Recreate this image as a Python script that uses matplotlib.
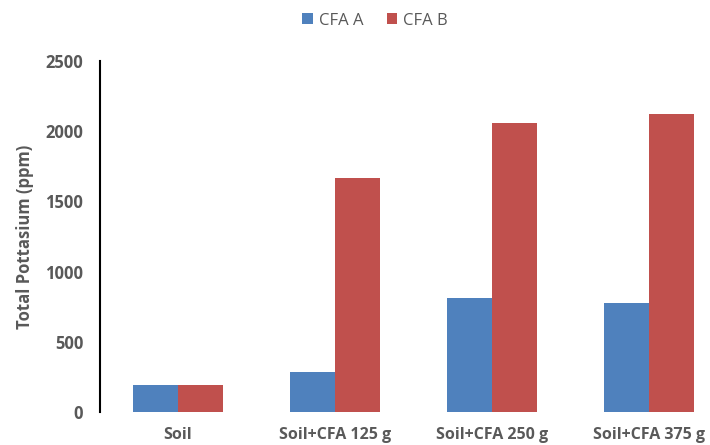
import matplotlib
matplotlib.use("Agg")
import matplotlib.pyplot as plt
import numpy as np

categories = ["Soil", "Soil+CFA 125 g", "Soil+CFA 250 g", "Soil+CFA 375 g"]
cfa_a = [190, 285, 815, 775]
cfa_b = [190, 1665, 2055, 2120]
yticks = [0, 500, 1000, 1500, 2000, 2500]

plt.rcParams['font.family'] = ['Open Sans', 'DejaVu Sans']
grey = "#595959"

fig = plt.figure(figsize=(7.1, 4.45), dpi=100)
ax = fig.add_axes([100/710, 33/445, 627/710, 351/445])

x = np.arange(len(categories))
w = 0.287
ax.bar(x - w/2, cfa_a, width=w, color="#4F81BD", label="CFA A")
ax.bar(x + w/2, cfa_b, width=w, color="#C0504D", label="CFA B")

ax.set_xlim(-0.497, 3.5)
ax.set_ylim(0, 2500)
ax.set_yticks(yticks)
ax.set_yticklabels([str(t) for t in yticks], fontsize=12, fontweight="bold", color=grey)
ax.set_xticks(x)
ax.set_xticklabels(categories, fontsize=11.5, fontweight="bold", color=grey)
ax.tick_params(axis="both", length=0)
ax.tick_params(axis="y", pad=12)
ax.tick_params(axis="x", pad=11)

for s in ["top", "right", "bottom"]:
    ax.spines[s].set_visible(False)
ax.spines["left"].set_color("black")
ax.spines["left"].set_linewidth(1.5)

ax.set_ylabel("Total Pottasium (ppm)", fontsize=12, fontweight="bold", color=grey, labelpad=8)

fig.legend(loc="upper center", bbox_to_anchor=(375/710, 1.005), ncol=2, frameon=False,
           fontsize=12, handlelength=0.65, handleheight=0.65, columnspacing=1.4,
           handletextpad=0.35, labelcolor=grey)

fig.savefig("out.png", dpi=100)
